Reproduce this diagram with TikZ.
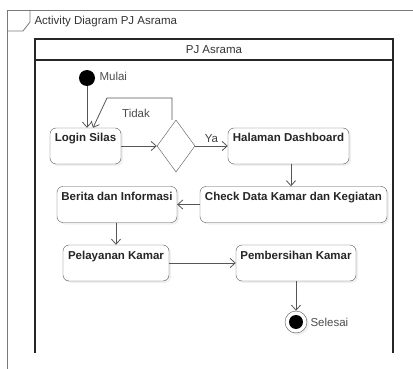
\documentclass[tikz,border=0pt]{standalone}
\usepackage{fontspec}
\setmainfont{Liberation Sans}
\usetikzlibrary{shapes.geometric,shadows,arrows.meta}
\definecolor{garis}{HTML}{555555}
\definecolor{bingkai}{HTML}{7A7A7A}

\begin{document}
\begin{tikzpicture}[x=1pt, y=-1pt, font=\fontsize{11.5}{13}\selectfont,
  >={Straight Barb[length=5pt, width=9pt]},
  aksi/.style={draw=garis, rounded corners=6pt, fill=white, align=center,
    font=\fontsize{11.5}{13}\selectfont\bfseries, text=black!85,
    inner ysep=4pt, text height=10pt, text depth=18pt,
    drop shadow={shadow xshift=2pt, shadow yshift=-2pt, opacity=0.12}},
  keputusan/.style={draw=garis, diamond, fill=white, inner sep=0pt,
    minimum width=38pt, minimum height=52pt},
  panah/.style={->, draw=garis, thick}]
\useasboundingbox (0,0) rectangle (413,369);

% Bingkai diagram
\draw[bingkai, thick] (7,372) -- (7,10) -- (416,10);
\draw[bingkai, thick] (7,31) -- (23,31) -- (30,22) -- (30,10);
\node[anchor=west, text=black!80] (judul) at (31,22) {Activity Diagram PJ Asrama};

% Swimlane
\draw[black!85, line width=1.4pt] (35,353) -- (35,39) -- (393,39) -- (393,353);
\draw[black!85, line width=1.4pt] (35,60) -- (393,60);
\node[text=black!80] (lajur) at (214,50) {PJ Asrama};

% Aktivitas
\node[circle, fill=black, minimum size=16pt, inner sep=0pt] (mulai) at (87,78) {};
\node[anchor=west, text=black!70] (lblmulai) at (96,76) {Mulai};
\node[aksi, minimum width=71pt] (login) at (85.5,146) {Login Silas};
\node[keputusan] (cek) at (176,146) {};
\node[aksi, minimum width=121pt] (dash) at (288.5,146) {Halaman Dashboard};
\node[aksi, minimum width=187pt] (check) at (293.5,204.5) {Check Data Kamar dan Kegiatan};
\node[aksi, minimum width=120pt] (berita) at (117,204.5) {Berita dan Informasi};
\node[aksi, minimum width=106pt] (layan) at (116,263) {Pelayanan Kamar};
\node[aksi, minimum width=120pt] (bersih) at (296,263) {Pembersihan Kamar};
\node[circle, draw=garis, fill=white, minimum size=22pt, inner sep=0pt,
  drop shadow={shadow xshift=2pt, shadow yshift=-2pt, opacity=0.12}] (selesai) at (296,322) {};
\node[circle, fill=black, minimum size=14pt, inner sep=0pt] (selesaiin) at (selesai) {};
\node[anchor=west, text=black!70] (lblselesai) at (307,322) {Selesai};

% Alur
\coordinate (belok) at (107,98);
\draw[panah] (mulai.south) -- (mulai.south |- login.north);
\draw[panah] (login.east) -- (cek.west);
\draw[panah] (cek.east) -- (dash.west) node[midway, above, text=black!75] {Ya};
\draw[panah] ([xshift=-4pt]cek.north) |- (belok) -- ([xshift=7.5pt]login.north);
\node[text=black!70] (tidak) at (136,113) {Tidak};
\draw[panah] ([xshift=2.5pt]dash.south) -- ([xshift=2.5pt]dash.south |- check.north);
\draw[panah] (check.west) -- (berita.east);
\draw[panah] (berita.south -| layan) -- (layan.north);
\draw[panah] (layan.east) -- (bersih.west);
\draw[panah] (bersih.south) -- (selesai.north);
\end{tikzpicture}
\end{document}
